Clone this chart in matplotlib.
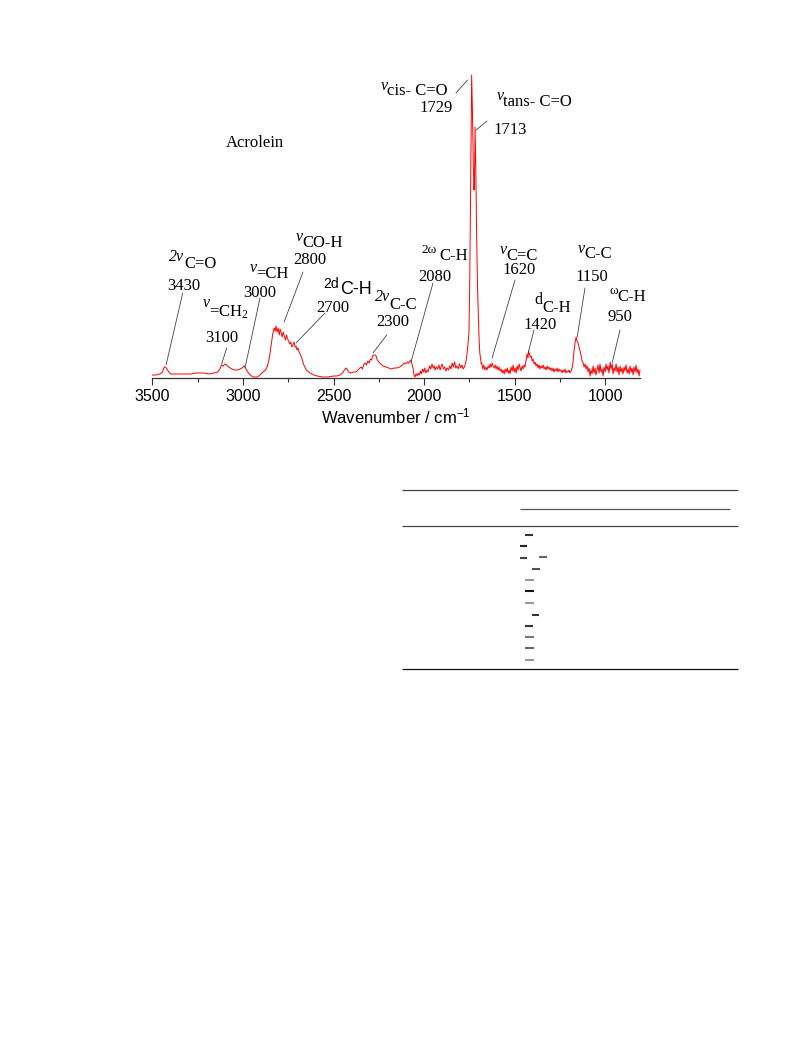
"""
Raman spectrum of acrolein with band assignments
"""
import matplotlib
import matplotlib.pyplot as plt
from matplotlib.ticker import MultipleLocator

matplotlib.use('Agg')
plt.rcParams['mathtext.default'] = 'regular'

# spectrum (wavenumber / cm-1, intensity a.u.)
WN = [3500, 3480, 3460, 3445, 3435, 3428, 3420, 3410, 3400, 3380, 3350, 3320, 3290,
      3260, 3238, 3215, 3190, 3160, 3140, 3128, 3118, 3110, 3100, 3090, 3080, 3070,
      3061, 3045, 3030, 3017, 3005, 2995, 2989, 2980, 2970, 2960, 2945, 2934, 2920,
      2906, 2890, 2875, 2865, 2855, 2845, 2836, 2828, 2822, 2818, 2812, 2806, 2800,
      2795, 2789, 2784, 2778, 2772, 2766, 2760, 2754, 2748, 2742, 2736, 2730, 2724,
      2718, 2712, 2707, 2702, 2696, 2690, 2682, 2674, 2664, 2650, 2630, 2610, 2590,
      2560, 2530, 2500, 2481, 2465, 2450, 2440, 2432, 2425, 2418, 2405, 2390, 2375,
      2365, 2355, 2347, 2340, 2332, 2325, 2318, 2310, 2303, 2296, 2290, 2284, 2278,
      2271, 2265, 2258, 2250, 2240, 2225, 2210, 2195, 2180, 2165, 2150, 2135, 2120,
      2110, 2100, 2092, 2085, 2078, 2072, 2067,
      2061, 2055, 2050, 2044, 2038, 2033, 2027, 2020, 2014, 2008, 2002, 1996, 1990,
      1983, 1977, 1970, 1963, 1956, 1950, 1944, 1939, 1932, 1925, 1918, 1911, 1905,
      1900, 1893, 1886, 1879, 1872, 1865, 1858, 1851, 1845, 1838, 1831, 1825, 1818,
      1811, 1804, 1797, 1790, 1784, 1777, 1770, 1764, 1758, 1752, 1748, 1744, 1740,
      1737, 1733, 1728, 1724, 1721, 1718, 1714, 1710, 1705, 1700, 1696, 1692, 1688,
      1684,
      1681, 1676, 1670, 1664, 1658, 1652, 1646, 1640, 1635, 1629, 1624, 1619, 1613,
      1607, 1602, 1597, 1591, 1585, 1580, 1574, 1568, 1563, 1557, 1552, 1546, 1541,
      1535, 1530, 1525, 1519, 1513, 1508, 1502, 1497, 1491, 1486, 1480, 1475, 1469,
      1464, 1458, 1453, 1447,
      1442, 1436, 1431, 1426, 1422, 1418, 1413, 1408, 1403, 1398, 1392, 1387, 1381,
      1375, 1370, 1364, 1359, 1353, 1348, 1342, 1337, 1331, 1326, 1320, 1315, 1309,
      1304, 1298, 1293, 1287, 1282, 1276, 1271, 1265, 1260, 1254, 1249, 1243, 1238,
      1232, 1227, 1221, 1216, 1210, 1205, 1199, 1194, 1188, 1182,
      1177, 1171, 1166, 1160, 1155, 1149, 1143, 1138, 1132, 1127, 1121, 1116, 1110,
      1105, 1099, 1094, 1088, 1083, 1077, 1072, 1066, 1061, 1055, 1050, 1044, 1039,
      1033, 1028, 1022, 1017, 1011, 1006, 1000, 995, 989, 984, 978, 972, 967, 961,
      956, 950, 945, 939, 934, 928, 923, 917, 912, 906, 901, 895, 890, 884, 878, 873,
      867, 862, 856, 851, 845, 840, 834, 829, 823, 818, 812, 807]
INT = [3, 3, 4, 6, 11, 11, 9, 6, 4, 4, 4, 4, 4,
       5, 5, 5, 4, 5, 6, 9, 13, 12, 14, 13, 11, 10,
       9, 8, 8, 9, 10, 12, 11, 8, 5, 3, 1, 1, 1,
       3, 6, 8, 12, 20, 32, 44, 50, 47, 52, 46, 50, 43,
       49, 45, 41, 46, 42, 38, 43, 39, 37, 34, 36, 31, 33,
       36, 31, 32, 28, 30, 26, 23, 19, 13, 8, 5, 3, 2,
       1, 1, 2, 2, 3, 5, 8, 10, 9, 6, 5, 6, 6,
       8, 10, 11, 9, 14, 15, 13, 17, 15, 19, 18, 22, 23,
       23, 22, 18, 16, 14, 12, 11, 10, 9, 10, 10, 11, 13,
       15, 14, 16, 15, 17, 18, 14,
       10, 3, 1, 4, 2, 5, 3, 7, 4, 9, 6, 10, 5,
       8, 6, 12, 9, 14, 10, 12, 8, 11, 9, 13, 8, 12,
       14, 9, 11, 7, 10, 8, 12, 9, 15, 11, 16, 10, 12,
       9, 14, 10, 13, 9, 11, 15, 22, 32, 45, 90, 160, 240,
       303, 270, 215, 188, 200, 251, 210, 150, 95, 62, 40, 25, 20,
       14,
       15, 9, 13, 8, 11, 8, 12, 10, 14, 11, 15, 12, 10,
       13, 9, 12, 8, 11, 7, 9, 5, 8, 4, 9, 6, 10,
       5, 8, 4, 11, 7, 13, 6, 10, 5, 12, 8, 14, 10,
       7, 12, 9, 13,
       11, 18, 24, 20, 27, 24, 21, 22, 17, 19, 14, 16, 12,
       14, 10, 13, 9, 12, 10, 13, 9, 11, 8, 12, 9, 11,
       8, 10, 7, 10, 6, 9, 7, 10, 6, 9, 7, 8, 5,
       8, 6, 9, 5, 7, 6, 8, 5, 7, 10,
       16, 28, 35, 41, 37, 35, 30, 27, 22, 17, 15, 11, 14,
       9, 12, 6, 10, 2, 8, 4, 12, 5, 10, 3, 8, 13,
       5, 14, 6, 9, 2, 11, 6, 14, 8, 12, 5, 16, 9, 14,
       4, 10, 7, 14, 6, 11, 3, 12, 6, 10, 4, 11, 7, 13, 5, 9,
       4, 12, 6, 10, 3, 11, 6, 13, 5, 9, 2, 8]

# band assignments: leader tip (data) -> leader start, symbol, subscript, number (pixels)
TIP_WN = [3425, 3118, 2989, 2773, 2707, 2282, 2072, 1760, 1712, 1624, 1425, 1154, 961]
TIP_INT = [13, 14, 10, 56, 35, 25, 16, 298, 248, 20, 25, 41, 15]
LEAD_XY = [(182.7, 293), (226.7, 348), (260, 298), (303, 272), (325, 313), (386.7, 335),
           (433, 283), (456, 93), (487, 121), (515, 280), (534, 330), (585, 288),
           (620, 330)]
SYMS = ['2v', 'v', 'v', 'v', '2d', '2v', '2\u03c9', 'v', 'v', 'v', 'd', 'v', '\u03c9']
SUBS = ['C=O', '=CH$_2$', '=CH', 'CO-H', 'C-H', 'C-C', 'C-H', 'cis- C=O', 'tans- C=O',
        'C=C', 'C-H', 'C-C', 'C-H']
NUMS = ['3430', '3100', '3000', '2800', '2700', '2300', '2080', '1729', '1713', '1620',
        '1420', '1150', '950']
SYM_XY = [(169, 257), (203, 303), (250, 268), (296, 237), (323, 284), (375, 297),
          (421, 250), (381, 86), (497, 96), (500, 250), (534, 300), (578, 249), (610, 291)]
SUB_XY = [(184, 264), (209, 312), (256, 274), (302, 243), (340, 290), (389, 305),
          (439, 256), (387, 91), (503, 102), (506, 256), (542, 308), (584, 254), (617, 297)]
NUM_XY = [(167, 286), (205, 338), (243, 293), (293, 260), (316, 308), (376, 322),
          (418, 277), (419, 108), (493, 130), (502, 270), (523, 325), (575, 277), (607, 317)]

# table rules below the chart (pixels)
RULE_Y = [489.5, 508.5, 526, 669]
RULE_X0 = [402, 520, 402, 402]
RULE_X1 = [738, 730, 738, 738]
DASH_Y = [535, 546, 557.5, 557, 568.7, 580, 591, 602.7, 615, 626, 636.7, 648, 660]
DASH_X0 = [525, 520, 520, 538.7, 531.7, 525, 525, 525, 532, 525, 525, 525, 525]
DASH_X1 = [533, 527, 527, 546.7, 540, 534, 534, 534, 539, 533, 534, 534, 534]
DASH_C = ['#333', '#222', '#444', '#666', '#555', '#999', '#111', '#999', '#333', '#333',
          '#777', '#666', '#999']

fig = plt.figure(figsize=(7.93, 10.57), dpi=100)
ax = fig.add_axes([152.5 / 793, 1 - 378 / 1057, 487.5 / 793, 318 / 1057])
ax.plot(WN, INT, color='red', lw=0.7, clip_on=False)
ax.set_xlim(3500, 807)
ax.set_ylim(0, 318)
for s in ['left', 'right', 'top']:
    ax.spines[s].set_visible(False)
ax.spines['bottom'].set_color('#333333')
ax.spines['bottom'].set_linewidth(0.9)
ax.yaxis.set_visible(False)
ax.xaxis.set_major_locator(MultipleLocator(500))
ax.xaxis.set_minor_locator(MultipleLocator(250))
ax.tick_params(axis='x', which='major', length=5, width=0.8, direction='out', pad=3,
               labelsize=11.5, colors='#333333', labelcolor='black')
ax.tick_params(axis='x', which='minor', length=3, width=0.8, direction='out', colors='#333333')
for lab in ax.get_xticklabels():
    lab.set_family('Liberation Sans')
ax.set_xlabel('Wavenumber / cm$^{-1}$', family='Liberation Sans', fontsize=12, labelpad=2)

ov = fig.add_axes([0, 0, 1, 1])
ov.set_xlim(0, 793)
ov.set_ylim(1057, 0)
ov.axis('off')
ov.patch.set_alpha(0)

serif = 'Liberation Serif'
ov.text(226, 143, 'Acrolein', family=serif, fontsize=12, va='center')

for i in range(len(NUMS)):
    ax.annotate('', xy=(TIP_WN[i], TIP_INT[i]), xytext=LEAD_XY[i], textcoords=ov.transData,
                arrowprops=dict(arrowstyle='-', color='#444444', lw=0.6, shrinkA=0, shrinkB=0))
    if SYMS[i] == '2d':
        ov.text(*SYM_XY[i], SYMS[i], family='Liberation Sans', fontsize=10, va='center')
        ov.text(*SUB_XY[i], SUBS[i], family='Liberation Sans', fontsize=13, va='center')
    else:
        if '\u03c9' in SYMS[i]:
            style, size = 'normal', 9.5
        elif SYMS[i] == 'd':
            style, size = 'normal', 11.5
        else:
            style, size = 'italic', 11.5
        ov.text(*SYM_XY[i], SYMS[i], family=serif, fontsize=size, style=style, va='center')
        ov.text(*SUB_XY[i], SUBS[i], family=serif, fontsize=12, va='center')
    ov.text(*NUM_XY[i], NUMS[i], family=serif, fontsize=12, va='center')

ov.hlines(RULE_Y, RULE_X0, RULE_X1, colors=['#444', '#555', '#444', '#111'], lw=0.9)
ov.hlines(DASH_Y, DASH_X0, DASH_X1, colors=DASH_C, lw=1.5)

plt.savefig('out.png', dpi=100)
